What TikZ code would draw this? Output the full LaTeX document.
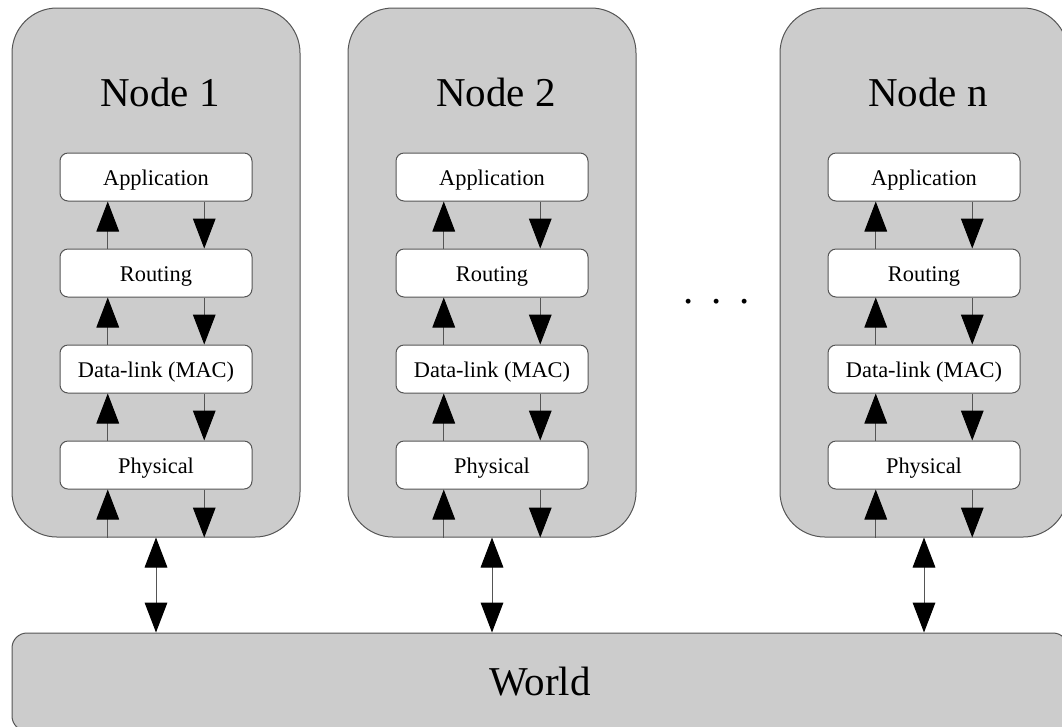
\documentclass[tikz,border=0pt]{standalone}
\usepackage{fontspec}
\setmainfont{Liberation Serif}
\usetikzlibrary{arrows.meta,calc}
\definecolor{boxgray}{HTML}{CCCCCC}
\definecolor{linegray}{HTML}{555555}
\tikzset{
  host/.style={draw=linegray, fill=boxgray, line width=0.75pt, rounded corners=33.75pt,
    minimum width=216pt, minimum height=396.75pt, inner sep=0pt},
  layer/.style={draw=linegray, fill=white, line width=0.75pt, rounded corners=6pt,
    minimum width=144pt, minimum height=36pt, inner sep=0pt, text height=14pt, text depth=2pt,
    font=\fontsize{16.8}{20}\selectfont},
  bigtext/.style={font=\fontsize{30.75}{36}\selectfont, inner sep=0pt},
  worldbox/.style={draw=linegray, fill=boxgray, line width=0.75pt, rounded corners=11.25pt,
    minimum width=792pt, minimum height=73.5pt, inner sep=0pt, font=\fontsize{30.75}{36}\selectfont},
  flow/.style={draw=linegray, line width=0.75pt, ->},
  twoway/.style={draw=linegray, line width=0.75pt, <->}
}
\begin{document}
\begin{tikzpicture}[x=0.75pt, y=-0.75pt,
  >={Triangle[length=22.5pt,width=17pt,color=black]}]
\useasboundingbox (0,0) rectangle (1062,726);
\clip (0,0) rectangle (1062,726);
\node[worldbox] (w) at (540,682) {World};
\foreach \c/\n/\ttl in {156/1/Node 1, 492/2/Node 2, 924/3/Node n}{
  \node[host] (h\n) at (\c,272.5) {};
  \node[bigtext, anchor=base] (t\n) at ($(h\n.center |- 0,106)+(4,0)$) {\ttl};
  \node[layer] (a\n) at (\c,177) {Application};
  \node[layer] (r\n) at (\c,273) {Routing};
  \node[layer] (d\n) at (\c,369) {Data-link (MAC)};
  \node[layer] (p\n) at (\c,465) {Physical};
  % up arrows
  \draw[flow] ($(r\n.north west)!0.25!(r\n.north east)$) -- ($(a\n.south west)!0.25!(a\n.south east)$);
  \draw[flow] ($(d\n.north west)!0.25!(d\n.north east)$) -- ($(r\n.south west)!0.25!(r\n.south east)$);
  \draw[flow] ($(p\n.north west)!0.25!(p\n.north east)$) -- ($(d\n.south west)!0.25!(d\n.south east)$);
  % down arrows
  \draw[flow] ($(a\n.south west)!0.75!(a\n.south east)$) -- ($(r\n.north west)!0.75!(r\n.north east)$);
  \draw[flow] ($(r\n.south west)!0.75!(r\n.south east)$) -- ($(d\n.north west)!0.75!(d\n.north east)$);
  \draw[flow] ($(d\n.south west)!0.75!(d\n.south east)$) -- ($(p\n.north west)!0.75!(p\n.north east)$);
  % physical to host border
  \coordinate (pu\n) at ($(p\n.south west)!0.25!(p\n.south east)$);
  \coordinate (pd\n) at ($(p\n.south west)!0.75!(p\n.south east)$);
  \draw[flow] (pu\n |- h\n.south) -- (pu\n);
  \draw[flow] (pd\n) -- (pd\n |- h\n.south);
  % host to world
  \draw[twoway] (h\n.south) -- (h\n.south |- w.north);
}
\node[bigtext, anchor=base] (dots) at (717,303) {.\hspace{13.3pt}.\hspace{13.3pt}.};
\end{tikzpicture}
\end{document}
